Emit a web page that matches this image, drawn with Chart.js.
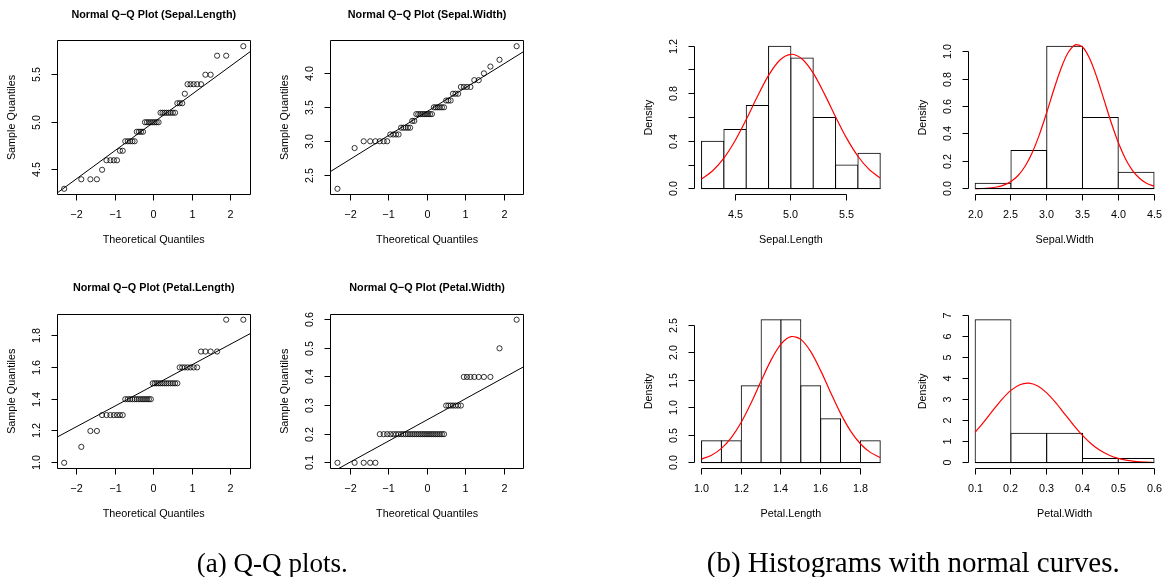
<!DOCTYPE html>
<html>
<head>
<meta charset="utf-8">
<script src="https://cdn.jsdelivr.net/npm/chart.js@4.4.1/dist/chart.umd.min.js"></script>
<style>
  html, body { margin: 0; padding: 0; background: #fff; }
  #page { position: relative; width: 1162px; height: 577px; overflow: hidden; }
  #page canvas { position: absolute; left: 0; top: 0; }
  #caps { position: absolute; left: 0; top: 0; }
</style>
</head>
<body>
<div id="page">
  <canvas id="qqSL" width="1162" height="577"></canvas>
  <canvas id="qqSW" width="1162" height="577"></canvas>
  <canvas id="qqPL" width="1162" height="577"></canvas>
  <canvas id="qqPW" width="1162" height="577"></canvas>
  <canvas id="hSL" width="1162" height="577"></canvas>
  <canvas id="hSW" width="1162" height="577"></canvas>
  <canvas id="hPL" width="1162" height="577"></canvas>
  <canvas id="hPW" width="1162" height="577"></canvas>
  <svg id="caps" width="1162" height="577" xmlns="http://www.w3.org/2000/svg">
    <text id="capA" x="272.3" y="572" text-anchor="middle" font-family="Liberation Serif, serif" font-size="24" fill="#000">(a) Q-Q plots.</text>
    <text id="capB" x="913.3" y="572" text-anchor="middle" font-family="Liberation Serif, serif" font-size="24" fill="#000">(b) Histograms with normal curves.</text>
  </svg>
</div>
<script>
// theoretical normal quantiles for n = 50
const theoQ = [-2.326,-1.881,-1.645,-1.476,-1.341,-1.227,-1.126,-1.036,-0.954,-0.878,
  -0.806,-0.739,-0.674,-0.613,-0.553,-0.496,-0.440,-0.385,-0.332,-0.279,
  -0.228,-0.176,-0.126,-0.075,-0.025,0.025,0.075,0.126,0.176,0.228,
  0.279,0.332,0.385,0.440,0.496,0.553,0.613,0.674,0.739,0.806,
  0.878,0.954,1.036,1.126,1.227,1.341,1.476,1.645,1.881,2.326];

// sorted sample values
const sepalLength = [4.3,4.4,4.4,4.4,4.5,4.6,4.6,4.6,4.6,4.7,4.7,4.8,4.8,4.8,4.8,4.8,4.9,4.9,4.9,4.9,
  5.0,5.0,5.0,5.0,5.0,5.0,5.0,5.0,5.1,5.1,5.1,5.1,5.1,5.1,5.1,5.1,5.2,5.2,5.2,5.3,
  5.4,5.4,5.4,5.4,5.4,5.5,5.5,5.7,5.7,5.8];
const sepalWidth = [2.3,2.9,3.0,3.0,3.0,3.0,3.0,3.0,3.1,3.1,3.1,3.1,3.2,3.2,3.2,3.2,3.2,3.3,3.3,3.4,
  3.4,3.4,3.4,3.4,3.4,3.4,3.4,3.4,3.5,3.5,3.5,3.5,3.5,3.5,3.6,3.6,3.6,3.7,3.7,3.7,
  3.8,3.8,3.8,3.8,3.9,3.9,4.0,4.1,4.2,4.4];
const petalLength = [1.0,1.1,1.2,1.2,1.3,1.3,1.3,1.3,1.3,1.3,1.3,1.4,1.4,1.4,1.4,1.4,1.4,1.4,1.4,1.4,
  1.4,1.4,1.4,1.4,1.5,1.5,1.5,1.5,1.5,1.5,1.5,1.5,1.5,1.5,1.5,1.5,1.5,1.6,1.6,1.6,
  1.6,1.6,1.6,1.6,1.7,1.7,1.7,1.7,1.9,1.9];
const petalWidth = [0.1,0.1,0.1,0.1,0.1,0.2,0.2,0.2,0.2,0.2,0.2,0.2,0.2,0.2,0.2,0.2,0.2,0.2,0.2,0.2,
  0.2,0.2,0.2,0.2,0.2,0.2,0.2,0.2,0.2,0.2,0.2,0.2,0.2,0.2,0.3,0.3,0.3,0.3,0.3,0.3,
  0.3,0.4,0.4,0.4,0.4,0.4,0.4,0.4,0.5,0.6];

// qq reference lines (through the quartiles), ends in data units
const qqLineX = [-3, 3];
const slLineY = [4.110, 5.890];
const swLineY = [2.381, 4.494];
const plLineY = [1.098, 1.877];
const pwLineY = [0.028, 0.472];

// histograms
const slBreaks = [4.2,4.4,4.6,4.8,5.0,5.2,5.4,5.6,5.8];
const slDensity = [0.4,0.5,0.7,1.2,1.1,0.6,0.2,0.3];
const swBreaks = [2.0,2.5,3.0,3.5,4.0,4.5];
const swDensity = [0.04,0.28,1.04,0.52,0.12];
const plBreaks = [1.0,1.1,1.2,1.3,1.4,1.5,1.6,1.7,1.8,1.9];
const plDensity = [0.4,0.4,1.4,2.6,2.6,1.4,0.8,0,0.4];
const pwBreaks = [0.1,0.2,0.3,0.4,0.5,0.6];
const pwDensity = [6.8,1.4,1.4,0.2,0.2];

// normal curves
const slCurveX = [4.2,4.3,4.4,4.5,4.6,4.7,4.8,4.9,5.0,5.1,5.2,5.3,5.4,5.5,5.6,5.7,5.8];
const slCurveY = [0.083,0.152,0.258,0.404,0.583,0.776,0.954,1.082,1.132,1.092,0.973,0.799,0.606,0.424,0.274,0.163,0.090];
const swCurveX = [2.0,2.1,2.2,2.3,2.4,2.5,2.6,2.7,2.8,2.9,3.0,3.1,3.2,3.3,3.4,3.5,3.6,3.7,3.8,3.9,4.0,4.1,4.2,4.3,4.4,4.5];
const swCurveY = [0.001,0.002,0.006,0.013,0.027,0.053,0.097,0.166,0.267,0.399,0.556,0.724,0.878,0.994,1.050,1.034,0.950,0.814,0.650,0.485,0.337,0.219,0.132,0.075,0.039,0.019];
const plCurveX = [1.00,1.05,1.10,1.15,1.20,1.25,1.30,1.35,1.40,1.45,1.50,1.55,1.60,1.65,1.70,1.75,1.80,1.85,1.90];
const plCurveY = [0.067,0.138,0.262,0.457,0.736,1.090,1.487,1.866,2.155,2.292,2.243,2.020,1.675,1.279,0.898,0.581,0.346,0.189,0.095];
const pwCurveX = [0.100,0.125,0.150,0.175,0.200,0.225,0.250,0.275,0.300,0.325,0.350,0.375,0.400,0.425,0.450,0.475,0.500,0.525,0.550,0.575,0.600];
const pwCurveY = [1.450,1.958,2.500,3.017,3.442,3.711,3.783,3.645,3.320,2.858,2.326,1.790,1.302,0.895,0.581,0.357,0.207,0.114,0.059,0.029,0.013];

// tick values and labels
const qqXTicks = [-2,-1,0,1,2];
const qqXLabels = ['\u22122','\u22121','0','1','2'];
const slQQTicks = [4.5,5.0,5.5];
const slQQLabels = ['4.5','5.0','5.5'];
const swQQTicks = [2.5,3.0,3.5,4.0];
const swQQLabels = ['2.5','3.0','3.5','4.0'];
const plQQTicks = [1.0,1.2,1.4,1.6,1.8];
const plQQLabels = ['1.0','1.2','1.4','1.6','1.8'];
const pwQQTicks = [0.1,0.2,0.3,0.4,0.5,0.6];
const pwQQLabels = ['0.1','0.2','0.3','0.4','0.5','0.6'];

const slHistX = [4.5,5.0,5.5];
const slHistXLabels = ['4.5','5.0','5.5'];
const slHistY = [0,0.2,0.4,0.6,0.8,1.0,1.2];
const slHistYLabels = ['0.0','','0.4','','0.8','','1.2'];
const swHistX = [2.0,2.5,3.0,3.5,4.0,4.5];
const swHistXLabels = ['2.0','2.5','3.0','3.5','4.0','4.5'];
const swHistY = [0,0.2,0.4,0.6,0.8,1.0];
const swHistYLabels = ['0.0','0.2','0.4','0.6','0.8','1.0'];
const plHistX = [1.0,1.2,1.4,1.6,1.8];
const plHistXLabels = ['1.0','1.2','1.4','1.6','1.8'];
const plHistY = [0,0.5,1.0,1.5,2.0,2.5];
const plHistYLabels = ['0.0','0.5','1.0','1.5','2.0','2.5'];
const pwHistX = [0.1,0.2,0.3,0.4,0.5,0.6];
const pwHistXLabels = ['0.1','0.2','0.3','0.4','0.5','0.6'];
const pwHistY = [0,1,2,3,4,5,6,7];
const pwHistYLabels = ['0','1','2','3','4','5','6','7'];

const W = 1162, H = 577;
const FONT = '"Liberation Sans", Arial, Helvetica, sans-serif';

// R style axes, labels and titles
const rAxes = {
  id: 'rAxes',
  afterDraw(chart, args, o) {
    const ctx = chart.ctx;
    const a = chart.chartArea;
    const xs = chart.scales.x, ys = chart.scales.y;
    const snap = v => Math.round(v - 0.5) + 0.5;
    const L = snap(a.left), R = snap(a.right), T = snap(a.top), B = snap(a.bottom);
    const xp = o.xTicks.map(v => snap(xs.getPixelForValue(v)));
    const yp = o.yTicks.map(v => snap(ys.getPixelForValue(v)));
    ctx.save();
    ctx.strokeStyle = '#000';
    ctx.fillStyle = '#000';
    ctx.lineWidth = 1;
    ctx.beginPath();
    if (o.box) {
      ctx.rect(L, T, R - L, B - T);
    } else {
      ctx.moveTo(xp[0], B); ctx.lineTo(xp[xp.length - 1], B);
      ctx.moveTo(L, yp[0]); ctx.lineTo(L, yp[yp.length - 1]);
    }
    xp.forEach(p => { ctx.moveTo(p, B); ctx.lineTo(p, B + 6); });
    yp.forEach(p => { ctx.moveTo(L, p); ctx.lineTo(L - 6, p); });
    if (o.breaks) {
      const y0 = snap(ys.getPixelForValue(0));
      ctx.moveTo(xs.getPixelForValue(o.breaks[0]), y0);
      ctx.lineTo(xs.getPixelForValue(o.breaks[o.breaks.length - 1]), y0);
    }
    ctx.stroke();

    ctx.font = '10.8px ' + FONT;
    ctx.textAlign = 'center';
    ctx.textBaseline = 'middle';
    o.xLabels.forEach((t, i) => ctx.fillText(t, xp[i], a.bottom + 20.5));
    o.yLabels.forEach((t, i) => {
      ctx.save();
      ctx.translate(a.left - 20, yp[i]);
      ctx.rotate(-Math.PI / 2);
      ctx.fillText(t, 0, 0);
      ctx.restore();
    });
    ctx.fillText(o.xTitle, (a.left + a.right) / 2, a.bottom + 45.5);
    ctx.save();
    ctx.translate(a.left - 45, (a.top + a.bottom) / 2);
    ctx.rotate(-Math.PI / 2);
    ctx.fillText(o.yTitle, 0, 0);
    ctx.restore();
    if (o.title) {
      ctx.font = 'bold 10.8px ' + FONT;
      ctx.fillText(o.title, (a.left + a.right) / 2, a.top - 25.5);
    }
    ctx.restore();
  }
};

function pad(area) {
  return { left: area[0], top: area[1], right: W - area[2], bottom: H - area[3] };
}

function qqChart(id, area, sample, lineY, ylim, yTicks, yLabels, name) {
  return new Chart(id, {
    type: 'scatter',
    data: {
      datasets: [
        {
          data: theoQ.map((x, i) => ({ x: x, y: sample[i] })),
          pointStyle: 'circle',
          pointRadius: 2.6,
          pointBorderWidth: 0.8,
          pointBorderColor: '#000',
          pointBackgroundColor: 'rgba(0,0,0,0)',
          showLine: false,
        },
        {
          data: qqLineX.map((x, i) => ({ x: x, y: lineY[i] })),
          showLine: true,
          borderColor: '#000',
          borderWidth: 1,
          pointRadius: 0,
        },
      ],
    },
    options: {
      responsive: false,
      animation: false,
      events: [],
      layout: { padding: pad(area) },
      scales: {
        x: { type: 'linear', min: -2.512, max: 2.512, display: false },
        y: { type: 'linear', min: ylim[0], max: ylim[1], display: false },
      },
      plugins: {
        legend: { display: false },
        tooltip: { enabled: false },
        rAxes: {
          box: true,
          xTicks: qqXTicks, xLabels: qqXLabels,
          yTicks: yTicks, yLabels: yLabels,
          xTitle: 'Theoretical Quantiles',
          yTitle: 'Sample Quantiles',
          title: 'Normal Q\u2212Q Plot (' + name + ')',
        },
      },
    },
    plugins: [rAxes],
  });
}

function histChart(id, area, breaks, density, curveX, curveY, xlim, ylim, xTicks, xLabels, yTicks, yLabels, name) {
  return new Chart(id, {
    type: 'bar',
    data: {
      datasets: [
        {
          type: 'line',
          order: 0,
          data: curveX.map((x, i) => ({ x: x, y: curveY[i] })),
          borderColor: '#ff0000',
          borderWidth: 1.2,
          pointRadius: 0,
          tension: 0.3,
          fill: false,
        },
        {
          type: 'bar',
          order: 1,
          data: density.map((d, i) => ({ x: (breaks[i] + breaks[i + 1]) / 2, y: d })),
          backgroundColor: '#fff',
          borderColor: '#000',
          borderWidth: 1,
          borderSkipped: false,
          inflateAmount: 0.5,
          barPercentage: 1,
          categoryPercentage: 1,
        },
      ],
    },
    options: {
      responsive: false,
      animation: false,
      events: [],
      layout: { padding: pad(area) },
      scales: {
        x: {
          type: 'linear', min: xlim[0], max: xlim[1], offset: false, display: false,
          afterBuildTicks: s => { s.ticks = breaks.map(v => ({ value: v })); },
        },
        y: { type: 'linear', min: ylim[0], max: ylim[1], display: false },
      },
      plugins: {
        legend: { display: false },
        tooltip: { enabled: false },
        rAxes: {
          box: false,
          breaks: breaks,
          xTicks: xTicks, xLabels: xLabels,
          yTicks: yTicks, yLabels: yLabels,
          xTitle: name,
          yTitle: 'Density',
        },
      },
    },
    plugins: [rAxes],
  });
}

// plot regions [left, top, right, bottom]
const cols = [[57, 250.5], [330.3, 523.8], [694.4, 887.4], [968, 1161.2]];
const rows = [[40.5, 194.5], [314, 468.5]];
const region = (c, r) => [cols[c][0], rows[r][0], cols[c][1], rows[r][1]];

qqChart('qqSL', region(0, 0), sepalLength, slLineY, [4.24, 5.86], slQQTicks, slQQLabels, 'Sepal.Length');
qqChart('qqSW', region(1, 0), sepalWidth, swLineY, [2.216, 4.484], swQQTicks, swQQLabels, 'Sepal.Width');
qqChart('qqPL', region(0, 1), petalLength, plLineY, [0.964, 1.936], plQQTicks, plQQLabels, 'Petal.Length');
qqChart('qqPW', region(1, 1), petalWidth, pwLineY, [0.08, 0.62], pwQQTicks, pwQQLabels, 'Petal.Width');

histChart('hSL', region(2, 0), slBreaks, slDensity, slCurveX, slCurveY, [4.136, 5.864], [-0.048, 1.248],
  slHistX, slHistXLabels, slHistY, slHistYLabels, 'Sepal.Length');
histChart('hSW', region(3, 0), swBreaks, swDensity, swCurveX, swCurveY, [1.9, 4.6], [-0.0416, 1.0816],
  swHistX, swHistXLabels, swHistY, swHistYLabels, 'Sepal.Width');
histChart('hPL', region(2, 1), plBreaks, plDensity, plCurveX, plCurveY, [0.964, 1.936], [-0.104, 2.704],
  plHistX, plHistXLabels, plHistY, plHistYLabels, 'Petal.Length');
histChart('hPW', region(3, 1), pwBreaks, pwDensity, pwCurveX, pwCurveY, [0.08, 0.62], [-0.272, 7.072],
  pwHistX, pwHistXLabels, pwHistY, pwHistYLabels, 'Petal.Width');

// size each caption to its measured width
function fitCaption(id, width) {
  const el = document.getElementById(id);
  const s = width / el.getComputedTextLength();
  el.setAttribute('font-size', (24 * s).toFixed(2));
}
fitCaption('capA', 151);
fitCaption('capB', 413);
</script>
</body>
</html>
